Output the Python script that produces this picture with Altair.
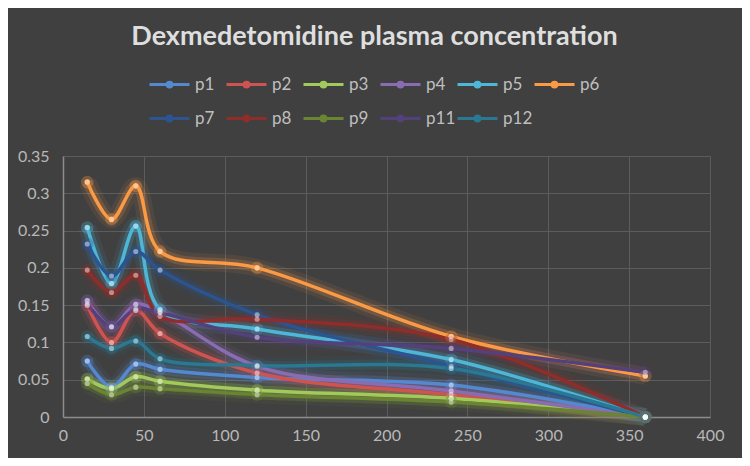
import altair as alt
import pandas as pd

times = [15, 30, 45, 60, 120, 240, 360]

names = ["p1", "p2", "p3", "p4", "p5", "p6", "p7", "p8", "p9", "p11", "p12"]
p1 = [0.075, 0.040, 0.071, 0.064, 0.053, 0.043, 0.0]
p2 = [0.150, 0.100, 0.143, 0.112, 0.059, 0.030, 0.0]
p3 = [0.051, 0.038, 0.054, 0.048, 0.036, 0.025, 0.0]
p4 = [0.156, 0.121, 0.151, 0.141, 0.068, 0.035, 0.0]
p5 = [0.254, 0.179, 0.256, 0.144, 0.118, 0.077, 0.0]
p6 = [0.315, 0.265, 0.310, 0.222, 0.200, 0.108, 0.055]
p7 = [0.232, 0.189, 0.222, 0.197, 0.137, 0.068, 0.0]
p8 = [0.197, 0.167, 0.190, 0.135, 0.131, 0.104, 0.0]
p9 = [0.045, 0.030, 0.040, 0.038, 0.030, 0.020, 0.0]
p11 = [0.152, 0.121, 0.145, 0.140, 0.107, 0.092, 0.060]
p12 = [0.108, 0.092, 0.102, 0.078, 0.069, 0.065, 0.0]

colors = ["#5589cf", "#cf5451", "#a2c95b", "#8a6cb3", "#4eb6d6", "#fb9a45",
          "#2c5491", "#8f2d2b", "#6a8434", "#54407a", "#2a7891"]

x_ticks = [0, 50, 100, 150, 200, 250, 300, 350, 400]
y_ticks = [0, 0.05, 0.1, 0.15, 0.2, 0.25, 0.3, 0.35]

series = [p1, p2, p3, p4, p5, p6, p7, p8, p9, p11, p12]
rows = []
for name, vals in zip(names, series):
    for t, v in zip(times, vals):
        rows.append({"time": t, "conc": v, "patient": name})
df = pd.DataFrame(rows)

legend = alt.Legend(
    title=None, orient="none", legendX=85, legendY=-93, direction="horizontal",
    columns=6, gridAlign="all", columnPadding=-6, rowPadding=4, padding=0,
    symbolType="M-1,0L1,0M-0.12,0A0.12,0.12 0 1,1 0.12,0A0.12,0.12 0 1,1 -0.12,0",
    symbolSize=1600, symbolStrokeWidth=3, symbolOpacity=1,
    labelColor="#bfbfbf", labelFont="Lato", labelFontSize=17, labelOffset=4,
)

color = alt.Color("patient:N", scale=alt.Scale(domain=names, range=colors), legend=legend)
x = alt.X("time:Q", scale=alt.Scale(domain=[0, 400], nice=False),
          axis=alt.Axis(values=x_ticks, title=None, format="d", labelFlush=False))
y = alt.Y("conc:Q", scale=alt.Scale(domain=[0, 0.35], nice=False),
          axis=alt.Axis(values=y_ticks, title=None, format="~g"))

base = alt.Chart(df)
glow2 = base.mark_line(strokeWidth=18, opacity=0.08, interpolate="catmull-rom").encode(
    x=x, y=y, color=color, detail="patient:N")
glow = base.mark_line(strokeWidth=10, opacity=0.2, interpolate="catmull-rom").encode(
    x=x, y=y, color=color, detail="patient:N")
line = base.mark_line(strokeWidth=3.5, interpolate="catmull-rom").encode(
    x=x, y=y, color=color, detail="patient:N")
pglow = base.mark_circle(size=160, opacity=0.3).encode(x=x, y=y, color=color)
pts = base.mark_circle(size=32, opacity=1).encode(x=x, y=y, color=color)
pwhite = base.mark_circle(size=26, opacity=0.45, color="white").encode(x=x, y=y)

chart = alt.layer(glow2, glow, line, pglow, pts, pwhite).properties(
    width=647, height=261,
    autosize="none",
    padding={"left": 55, "top": 148, "right": 32, "bottom": 41},
    background="#404040",
    title=alt.Title("Dexmedetomidine plasma concentration", font="Lato", fontSize=27,
                    fontWeight="bold", color="#dedede", anchor="middle", dx=-12, dy=37,
                    baseline="bottom", offset=22),
).configure_view(stroke=None).configure_axis(
    grid=True, gridColor="#5c5c5c", gridWidth=1, ticks=False,
    domainColor="#8c8c8c", domainWidth=1.5,
    labelColor="#b8b8b8", labelFont="Lato", labelFontSize=16,
).configure_axisX(labelPadding=10).configure_axisY(labelPadding=14)

chart.save("out.html", embed_options={"renderer": "svg", "actions": False})
